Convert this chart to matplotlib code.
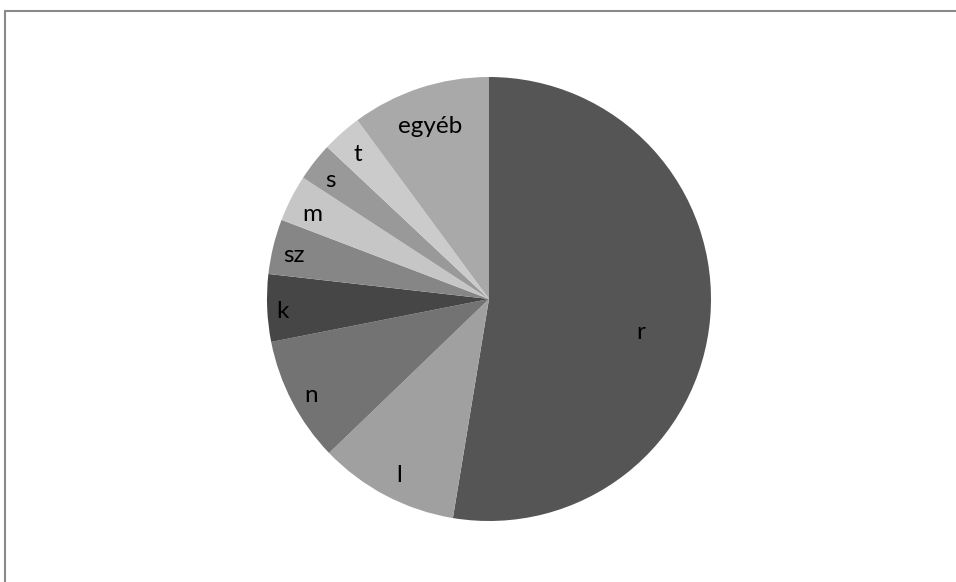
import numpy as np
import matplotlib.pyplot as plt
from matplotlib.patches import Rectangle

# share of each letter, clockwise from the top
letters = ['r', 'l', 'n', 'k', 'sz', 'm', 's', 't', 'egyéb']
shares = [52.6, 10.2, 9.1, 4.9, 4.0, 3.4, 2.8, 2.9, 10.1]
greys = ['#555555', '#a0a0a0', '#737373', '#464646', '#868686',
         '#c6c6c6', '#999999', '#cbcbcb', '#a9a9a9']
# label placement: fraction of radius, and turn away from the wedge middle (deg)
label_dist = [0.70, 0.89, 0.91, 0.93, 0.90, 0.88, 0.89, 0.88, 0.82]
label_turn = [-7.7, 0.7, 1.0, 1.0, 1.2, 1.5, 1.4, 0.7, 0.7]

W, H = 956, 582
fig = plt.figure(figsize=(W / 100, H / 100), dpi=100)

# chart frame (runs off the right and bottom edges)
fig.patches.append(Rectangle((4.5 / W, -0.1), 1.2, 1 - 10.5 / H + 0.1,
                             transform=fig.transFigure, fill=False,
                             edgecolor='#898989', linewidth=1.5))

r_px = 222
cx, cy = 489, 299
ax = fig.add_axes([(cx - r_px) / W, 1 - (cy + r_px) / H, 2 * r_px / W, 2 * r_px / H])
wedges, texts = ax.pie(shares, labels=letters, colors=greys, startangle=90,
                       counterclock=False, radius=1.0, labeldistance=0.9,
                       wedgeprops=dict(linewidth=0),
                       textprops=dict(fontsize=17.5, family=['Lato', 'DejaVu Sans'],
                                      color='black'))
ax.set_xlim(-1, 1)
ax.set_ylim(-1, 1)
ax.set_aspect('equal')

# move each label along its wedge's middle angle
for w, t, d, turn in zip(wedges, texts, label_dist, label_turn):
    ang = np.deg2rad((w.theta1 + w.theta2) / 2 + turn)
    t.set_position((d * np.cos(ang), d * np.sin(ang)))
    t.set_ha('center')
    t.set_va('center')

fig.savefig('out.png', dpi=100)
